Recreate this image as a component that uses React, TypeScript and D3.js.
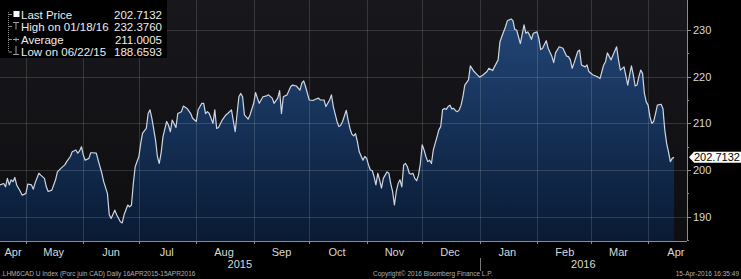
import React from "react";
import * as d3 from "d3";

const startDate = new Date(2015, 3, 17);
const dayOffsets = [
  0, 2, 3, 4, 5, 6, 7, 8, 9, 11, 12, 14, 15, 17, 18, 19, 21, 22, 24, 25, 26, 28, 30, 31, 33, 35, 36, 38, 39, 41,
  42, 43, 44, 45, 46, 48, 49, 50, 52, 53, 55, 56, 58, 59, 60, 62, 63, 65, 66, 67, 69, 70, 71, 72, 73, 75, 76, 77, 79, 80,
  81, 82, 84, 85, 86, 87, 88, 90, 91, 92, 93, 95, 96, 98, 99, 101, 103, 104, 106, 107, 109, 110, 111, 112, 113, 115, 116, 117, 118, 120,
  122, 123, 125, 127, 129, 130, 131, 132, 134, 135, 137, 138, 139, 140, 142, 144, 145, 147, 148, 150, 151, 152, 153, 155, 157, 158, 160, 162, 163, 164,
  165, 167, 169, 170, 172, 173, 175, 176, 178, 179, 180, 182, 183, 184, 185, 187, 188, 189, 190, 191, 192, 193, 194, 196, 197, 198, 199, 200, 201, 202,
  203, 204, 205, 206, 207, 209, 210, 211, 212, 213, 214, 215, 216, 217, 218, 219, 220, 221, 222, 223, 224, 225, 226, 227, 228, 229, 230, 231, 232, 233,
  234, 236, 237, 238, 239, 240, 241, 242, 243, 244, 245, 246, 247, 248, 249, 250, 251, 253, 254, 256, 257, 259, 261, 263, 264, 266, 267, 269, 270, 271,
  273, 274, 276, 277, 278, 279, 281, 283, 284, 285, 286, 287, 288, 290, 291, 292, 293, 295, 296, 298, 299, 300, 302, 304, 306, 307, 308, 309, 310, 312,
  313, 314, 316, 317, 318, 320, 322, 323, 324, 326, 327, 328, 330, 331, 333, 334, 335, 337, 339, 340, 341, 342, 343, 344, 345, 346, 347, 348, 349, 350,
  351, 352, 353, 354, 355, 357, 358, 359, 360, 361, 362, 363, 364,
];
const prices = [
  196.8, 197.1, 196.4, 198.2, 196.8, 197.9, 197.5, 198.4, 196.8, 195.4, 194.6, 195.0, 197.0, 196.8, 195.9, 197.3, 199.3, 198.9, 198.2, 196.4, 195.4, 195.7, 197.9, 199.6, 200.4, 201.1, 201.8, 202.9, 203.9, 204.3,
  203.6, 204.1, 205.0, 203.2, 202.1, 202.5, 203.7, 203.7, 203.6, 202.1, 199.3, 197.5, 195.0, 190.4, 189.6, 191.4, 190.4, 188.9, 188.6593, 190.4, 192.5, 192.1, 192.5, 197.1, 200.7, 202.9, 205.7, 207.9, 208.9, 212.1,
  212.9, 211.1, 206.4, 202.9, 201.4, 203.6, 207.1, 210.4, 209.6, 208.2, 210.7, 209.1, 212.1, 212.5, 213.7, 213.2, 212.1, 211.1, 210.4, 212.9, 214.3, 214.3, 212.1, 212.5, 212.1, 210.0, 212.9, 208.9, 209.1, 210.7,
  211.8, 212.1, 212.9, 208.2, 215.7, 216.4, 215.7, 211.8, 210.9, 211.8, 214.3, 216.6, 215.4, 214.3, 215.7, 215.9, 216.1, 215.4, 214.3, 215.4, 217.0, 212.1, 215.7, 216.1, 217.9, 218.2, 218.0, 217.1, 218.6, 219.1,
  217.9, 215.0, 214.9, 215.1, 215.4, 215.0, 215.0, 213.6, 215.0, 216.1, 213.6, 210.4, 209.3, 209.6, 210.4, 212.8, 210.7, 208.9, 207.7, 207.3, 207.8, 206.1, 203.9, 202.1, 202.9, 202.5, 201.1, 200.0, 199.9, 198.6,
  196.8, 199.3, 197.9, 196.1, 198.2, 199.6, 199.3, 197.1, 195.4, 192.5, 195.4, 197.1, 197.9, 196.4, 201.1, 201.4, 200.7, 199.3, 199.1, 199.3, 198.2, 197.7, 198.9, 201.4, 205.4, 204.3, 202.9, 201.8, 202.1, 201.4,
  204.3, 207.1, 208.6, 209.3, 212.9, 213.2, 213.0, 213.6, 213.9, 213.1, 213.2, 212.7, 212.5, 212.9, 213.9, 215.7, 218.2, 219.3, 222.3, 221.1, 220.7, 219.9, 220.4, 221.1, 221.8, 221.3, 222.1, 223.6, 227.5, 228.6,
  230.7, 232.0, 232.376, 232.0, 230.1, 230.0, 227.1, 231.1, 229.3, 229.6, 228.9, 228.0, 229.3, 229.6, 228.2, 225.8, 226.1, 227.7, 226.1, 224.4, 223.0, 225.1, 226.4, 226.1, 224.4, 224.3, 223.6, 221.8, 222.9, 225.4,
  225.7, 222.5, 222.1, 222.5, 221.1, 220.4, 220.1, 219.9, 219.6, 222.5, 223.2, 225.1, 223.6, 224.6, 226.4, 223.6, 221.4, 222.1, 218.2, 220.4, 222.3, 220.4, 218.0, 218.2, 220.0, 221.4, 220.7, 216.4, 214.6, 213.9,
  211.4, 210.0, 210.4, 212.1, 213.9, 214.1, 213.2, 208.6, 205.7, 203.9, 201.8, 202.5, 202.7132,
];

const yTicks = [190, 200, 210, 220, 230];
const yMinorTicks = [185, 195, 205, 215, 225];
const legendLabels = ["Last Price", "High on 01/18/16", "Average", "Low on 06/22/15"];
const legendValues = ["202.7132", "232.3760", "211.0005", "188.6593"];
const lastPriceLabel = "202.7132";
const years = ["2015", "2016"];
const footerLeft = ".LHM6CAD U Index (Porc juin CAD)  Daily 16APR2015-15APR2016";
const footerMid = "Copyright\u00A9 2016 Bloomberg Finance L.P.";
const footerRight = "15-Apr-2016 16:35:49";

const W = 741;
const H = 279;
const plotR = 687;
const plotB = 241;
const FONT = "'Liberation Sans', Arial, sans-serif";

export default function App() {
  const data = dayOffsets.map((d, i) => ({ date: d3.timeDay.offset(startDate, d), v: prices[i] }));
  const x = d3.scaleTime().domain([new Date(2015, 3, 17), new Date(2016, 3, 22)]).range([0, plotR]);
  const y = d3.scaleLinear().domain([184.79, 236.43]).range([plotB, 0]);

  const line = d3.line<any>().x((d) => x(d.date)).y((d) => y(d.v)).curve(d3.curveLinear);
  const area = d3.area<any>().x((d) => x(d.date)).y0(plotB).y1((d) => y(d.v)).curve(d3.curveLinear);

  const monthStarts = d3.timeMonth.range(new Date(2015, 4, 1), new Date(2016, 3, 22));
  const monthLabels = d3.timeMonth.range(new Date(2015, 3, 1), new Date(2016, 3, 22)).map((m) => {
    const mid = d3.timeDay.offset(m, 15);
    let cx = x(mid);
    if (cx < 13) cx = 13;
    return { label: d3.timeFormat("%b")(m), cx };
  });
  const jan1 = x(new Date(2016, 0, 1));
  const yearPos = [(0 + jan1) / 2, (jan1 + plotR) / 2];
  const lastY = y(prices[prices.length - 1]);

  return (
    <svg width={W} height={H} style={{ position: "absolute", left: 0, top: 0, display: "block" }} fontFamily={FONT}>
      <defs>
        <linearGradient id="fillGrad" x1="0" y1="0" x2="0" y2={plotB} gradientUnits="userSpaceOnUse">
          <stop offset="0" stopColor="#25497a" />
          <stop offset="0.5" stopColor="#163259" />
          <stop offset="1" stopColor="#091a33" />
        </linearGradient>
        <linearGradient id="bgGrad" x1="0" y1="0" x2="0" y2="1">
          <stop offset="0" stopColor="#18181c" />
          <stop offset="1" stopColor="#0e0e11" />
        </linearGradient>
        <clipPath id="plotClip">
          <rect x={0} y={0} width={plotR} height={plotB} />
        </clipPath>
      </defs>
      <rect x={0} y={0} width={W} height={H} fill="#000" />
      <rect x={0} y={0} width={plotR} height={plotB} fill="url(#bgGrad)" />
      <g clipPath="url(#plotClip)">
        <path d={area(data) || ""} fill="url(#fillGrad)" />
        {yTicks.map((t) => (
          <line key={"gy" + t} x1={0} x2={plotR} y1={Math.round(y(t)) + 0.5} y2={Math.round(y(t)) + 0.5} stroke="#ffffff" strokeOpacity={0.14} />
        ))}
        {monthStarts.map((m, i) => (
          <line key={"gx" + i} x1={Math.round(x(m)) + 0.5} x2={Math.round(x(m)) + 0.5} y1={0} y2={plotB} stroke="#ffffff" strokeOpacity={0.14} />
        ))}
        <path d={line(data) || ""} fill="none" stroke="#cdd6e2" strokeWidth={1.2} strokeLinejoin="round" />
      </g>

      {/* right axis */}
      <line x1={plotR + 0.5} x2={plotR + 0.5} y1={0} y2={plotB} stroke="#8c8c8c" />
      {yTicks.map((t) => (
        <g key={"yt" + t}>
          <line x1={plotR} x2={plotR + 4} y1={Math.round(y(t)) + 0.5} y2={Math.round(y(t)) + 0.5} stroke="#8c8c8c" />
          <text x={693} y={y(t) + 4} fontSize={11} fill="#d8d8d8">{t}</text>
        </g>
      ))}
      {yMinorTicks.map((t) => (
        <line key={"ym" + t} x1={plotR} x2={plotR + 2} y1={Math.round(y(t)) + 0.5} y2={Math.round(y(t)) + 0.5} stroke="#8c8c8c" />
      ))}

      {/* bottom axis */}
      <line x1={0} x2={plotR} y1={plotB + 0.5} y2={plotB + 0.5} stroke="#8c8c8c" />
      {monthStarts.map((m, i) => (
        <line key={"xt" + i} x1={Math.round(x(m)) + 0.5} x2={Math.round(x(m)) + 0.5} y1={plotB} y2={plotB + 3} stroke="#8c8c8c" />
      ))}
      {monthLabels.map((m, i) => (
        <text key={"ml" + i} x={m.cx} y={256} fontSize={11} fill="#d8d8d8" textAnchor="middle">{m.label}</text>
      ))}
      {years.map((yr, i) => (
        <text key={yr} x={yearPos[i]} y={268} fontSize={11} fill="#d8d8d8" textAnchor="middle">{yr}</text>
      ))}
      <line x1={Math.round(jan1) + 0.5} x2={Math.round(jan1) + 0.5} y1={258} y2={271} stroke="#7a7a7a" />

      {/* last price tag */}
      <path d={`M${plotR + 2},${lastY} L${plotR + 7},${lastY - 5.5} L${W},${lastY - 5.5} L${W},${lastY + 5.5} L${plotR + 7},${lastY + 5.5} Z`} fill="#ffffff" />
      <text x={694} y={lastY + 4} fontSize={11} fill="#000">{lastPriceLabel}</text>

      {/* legend */}
      <rect x={0} y={0} width={167} height={58} fill="#000" />
      <line x1={8.5} x2={8.5} y1={12} y2={52} stroke="#8a8a8a" strokeDasharray="1,1" />
      {[14, 26, 39, 51.5].map((cy, i) => (
        <line key={"br" + i} x1={8.5} x2={12} y1={cy + 0.5} y2={cy + 0.5} stroke="#8a8a8a" />
      ))}
      <rect x={13.5} y={11} width={6} height={6} fill="#ffffff" />
      <line x1={13} x2={19} y1={22.5} y2={22.5} stroke="#a0a0a0" />
      <line x1={16} x2={16} y1={22.5} y2={29.5} stroke="#a0a0a0" />
      <line x1={13} x2={19} y1={39.5} y2={39.5} stroke="#a0a0a0" />
      <line x1={16} x2={16} y1={37.5} y2={41.5} stroke="#a0a0a0" />
      <line x1={16} x2={16} y1={46} y2={54} stroke="#a0a0a0" />
      <line x1={13} x2={19} y1={54.5} y2={54.5} stroke="#a0a0a0" />
      {legendLabels.map((lab, i) => (
        <g key={"lg" + i}>
          <text x={21} y={[18.5, 30.5, 43.5, 56][i]} fontSize={11.5} fill="#ececec">{lab}</text>
          <text x={162} y={[18.5, 30.5, 43.5, 56][i]} fontSize={11.5} fill="#ececec" textAnchor="end">{legendValues[i]}</text>
        </g>
      ))}

      {/* footer */}
      <text x={1} y={276} fontSize={6.5} fill="#b0b0b0">{footerLeft}</text>
      <text x={373} y={276} fontSize={6.5} fill="#b0b0b0">{footerMid}</text>
      <text x={739} y={276} fontSize={6.5} fill="#b0b0b0" textAnchor="end">{footerRight}</text>
    </svg>
  );
}
